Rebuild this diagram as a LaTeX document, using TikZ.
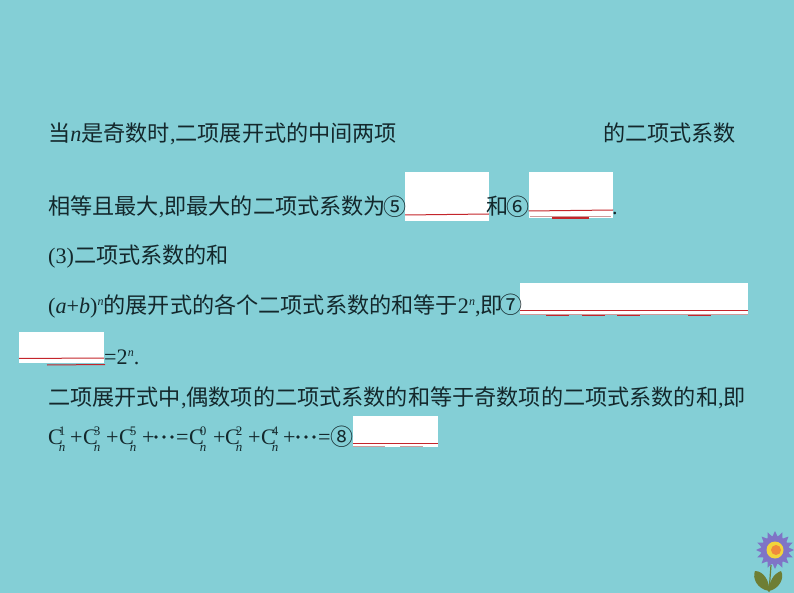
\documentclass[tikz,border=0pt]{standalone}
\usepackage{fontspec}
\setmainfont{Liberation Serif}
\newfontfamily\cjk{Noto Sans CJK SC}
\usetikzlibrary{calc, positioning}
\definecolor{slidebg}{HTML}{84CFD6}
\definecolor{inkline}{HTML}{14282C}
\definecolor{redline}{HTML}{C4252B}
\definecolor{pinkline}{HTML}{CF9A9A}
\definecolor{petal}{HTML}{7F74C6}
\definecolor{leafgreen}{HTML}{6E7E34}
\definecolor{ringyellow}{HTML}{F2D43B}
\definecolor{heartorange}{HTML}{F08A3C}
\newcommand{\bigfont}{\fontsize{22.15}{26}\selectfont}
\newcommand{\binomC}[1]{C\kern-4pt\rlap{\raisebox{9pt}{\fontsize{13}{13}\selectfont #1}}\raisebox{-7pt}{\fontsize{13}{13}\selectfont\itshape n}}
\newcommand{\upn}{\raisebox{8pt}{\fontsize{12}{12}\selectfont\itshape n}}
\tikzset{
  line/.style={anchor=base west, inner sep=0pt, text=inkline, font=\bigfont},
  circled/.style={anchor=center, inner sep=0pt, text=inkline, font=\fontsize{23}{26}\selectfont\cjk},
  blank/.style={fill=white},
  rule/.style={redline, line width=1pt},
  faint/.style={pinkline, line width=1pt},
  thickrule/.style={redline, line width=2pt},
}
\begin{document}
\begin{tikzpicture}[x=1pt, y=-1pt]
    \useasboundingbox (0,0) rectangle (794,593);
    \fill [slidebg] (0,0) rectangle (794,593);

    % blanks
    \fill [blank] (405,172) rectangle (489,221);
    \fill [blank] (528.5,172) rectangle (613,218);
    \fill [blank] (520,283) rectangle (748,315);
    \fill [blank] (19,332) rectangle (104,363);
    \fill [blank] (353,416) rectangle (438,447);

    \draw [rule] (405,215) -- (489,214);
    \draw [rule] (528.5,211) -- (613,210);
    \draw [faint] (530,217) -- (611,217);
    \draw [thickrule] (552,218.5) -- (589,218.5);
    \draw [rule] (520,310.5) -- (748,310.5);
    \draw [faint] (520,314.5) -- (748,314.5);
    \foreach \xa in {546,582,617,688}
      \draw [rule] (\xa,315) -- ++(23,0);
    \draw [rule] (19,358.5) -- (104,358);
    \draw [rule] (47,365) -- (105,364.5);
    \draw [rule] (353,443) -- (438,443);
    \draw [faint] (353,446) -- (385,446);
    \draw [faint] (400,446) -- (423,446);

    % text lines
    \node [line] (odd) at (48,142) {{\cjk 当}\textit{n}{\cjk 是奇数时},{\cjk 二项展开式的中间两项}};
    \node [line] (oddend) at (603,142) {\cjk 的二项式系数};
    \node [line] (same) at (48,215) {{\cjk 相等且最大},{\cjk 即最大的二项式系数为}};
    \node [circled] (five) at (395,207) {⑤};
    \node [line] (and) at (486,215) {\cjk 和};
    \node [circled] (six) at (518,207) {⑥};
    \node [line] (stop) at (612,215) {.};
    \node [line] (sum) at (48,264) {(3){\cjk 二项式系数的和}};
    \node [line] (expand) at (48,313) {(\textit{a}+\textit{b})\upn{\cjk 的展开式的各个二项式系数的和等于}2\upn,{\cjk 即}};
    \node [circled] (seven) at (511,305) {⑦};
    \node [line] (two) at (104,364) {=2\upn.};
    \node [line] (even) at (48,405) {{\cjk 二项展开式中},{\cjk 偶数项的二项式系数的和等于奇数项的二项式系数的和},{\cjk 即}};

    % last line
    \foreach \xa/\k in {48/1,83/3,119/5,189/0,225/2,261/4}
      \node [line] (c\k) at (\xa,444) {\binomC{\k}};
    \foreach \xa/\k in {70/a,106/b,142/c,213/d,248/e,283/f}
      \node [line] (plus\k) at (\xa,444) {+};
    \foreach \xa in {156,164,172,298,306,314}
      \fill [inkline] (\xa,437) circle (1.8);
    \node [line] (eqa) at (176,444) {=};
    \node [line] (eqb) at (318,444) {=};
    \node [circled] (eight) at (342,437) {⑧};

    % flower
    \draw [leafgreen, line width=1.2pt] (771,565) -- (769,592);
    \fill [leafgreen] (769,591) .. controls (757,589) and (752,578) .. (755,571)
      .. controls (764,571) and (770,582) .. (769,591);
    \fill [leafgreen] (769,591) .. controls (769,582) and (773,574) .. (781,571)
      .. controls (785,578) and (779,589) .. (769,591);
    \foreach \ang in {0,22.5,...,337.5}
      \fill [petal] ($(775,550)+(\ang-13:13)$) -- ($(775,550)+(\ang:19)$) -- ($(775,550)+(\ang+13:13)$) -- cycle;
    \fill [petal] (775,550) circle (14);
    \fill [ringyellow] (775,550) circle (8.5);
    \fill [heartorange] (776,550) circle (5);
\end{tikzpicture}
\end{document}
